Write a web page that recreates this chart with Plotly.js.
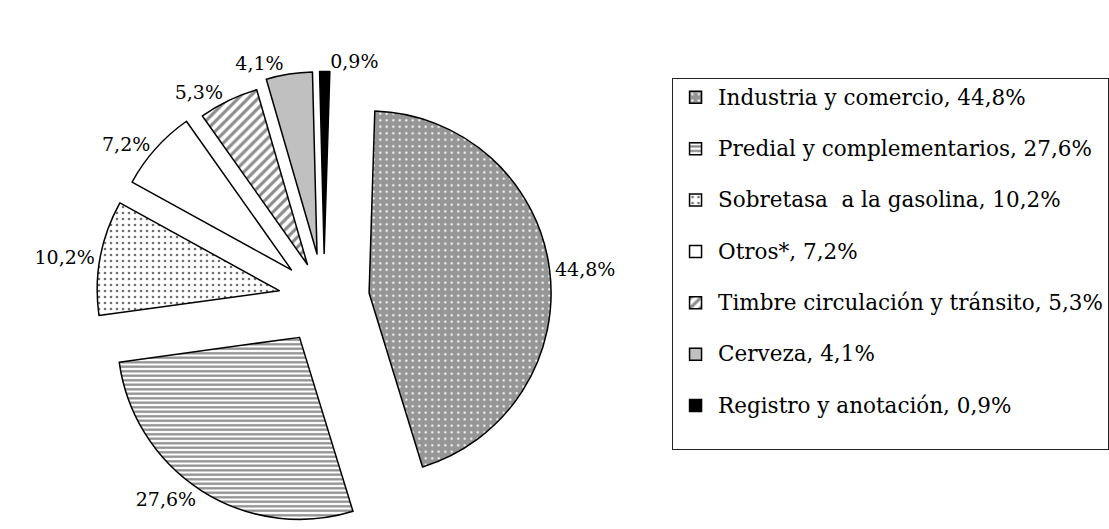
<!DOCTYPE html>
<html><head><meta charset="utf-8">
<script src="https://cdn.plot.ly/plotly-3.0.1.min.js"></script>
<style>html,body{margin:0;padding:0;background:#fff;}#chart{width:1109px;height:529px;}</style>
</head><body><div id="chart"></div>
<script>
const categories = ['Industria y comercio', 'Predial y complementarios', 'Sobretasa  a la gasolina', 'Otros*', 'Timbre circulación y tránsito', 'Cerveza', 'Registro y anotación'];
const shares = [44.8, 27.6, 10.2, 7.2, 5.3, 4.1, 0.9];
const sliceColors = ['#969696', '#ffffff', '#ffffff', '#ffffff', '#ffffff', '#c0c0c0', '#000000'];
const patternShapes = ['.', '-', '.', '', '/', '', ''];
const patternColors = ['#ffffff', '#8c8c8c', '#707070', '#000000', '#8c8c8c', '#000000', '#000000'];
const patternSizes = [6.5, 4.5, 6, 8, 7, 8, 8];
const patternSolidity = [0.1, 0.5, 0.15, 0.3, 0.45, 0.3, 0.3];
const slicePull = [0.25, 0.25, 0.25, 0.24, 0.21, 0.25, 0.25];

const fmt = v => v.toFixed(1).replace('.', ',') + '%';
const legendLabels = categories.map((c, i) =>
  '<span style="font-size:21.5px">' + c + ', ' + fmt(shares[i]) + '</span><br>\u00a0');

const trace = {
  type: 'pie',
  labels: legendLabels,
  values: shares,
  sort: false,
  direction: 'clockwise',
  rotation: 1.8,
  pull: slicePull,
  texttemplate: '%{value:.1f}%',
  textposition: 'outside',
  textfont: {family: 'DejaVu Serif', size: 19, color: '#000'},
  hoverinfo: 'none',
  marker: {
    colors: sliceColors,
    line: {color: '#000', width: 1.5},
    pattern: {shape: patternShapes, fgcolor: patternColors, bgcolor: sliceColors,
              size: patternSizes, solidity: patternSolidity, fillmode: 'replace'}
  },
  domain: {x: [0.0870, 0.4973], y: [0.0047, 0.8648]}
};

const layout = {
  width: 1109, height: 529,
  margin: {l: 0, r: 0, t: 0, b: 0, autoexpand: false},
  paper_bgcolor: '#fff',
  separators: ',.',
  font: {family: 'DejaVu Serif', color: '#000', size: 18.6},
  showlegend: true,
  legend: {
    x: 0.606, xanchor: 'left', y: 0.853, yanchor: 'top',
    bgcolor: '#fff', bordercolor: '#222', borderwidth: 1,
    font: {family: 'DejaVu Serif', size: 18.6, color: '#000'},
    valign: 'top', traceorder: 'normal', itemwidth: 35
  }
};

Plotly.newPlot('chart', [trace], layout, {staticPlot: true, displayModeBar: false});
</script></body></html>
